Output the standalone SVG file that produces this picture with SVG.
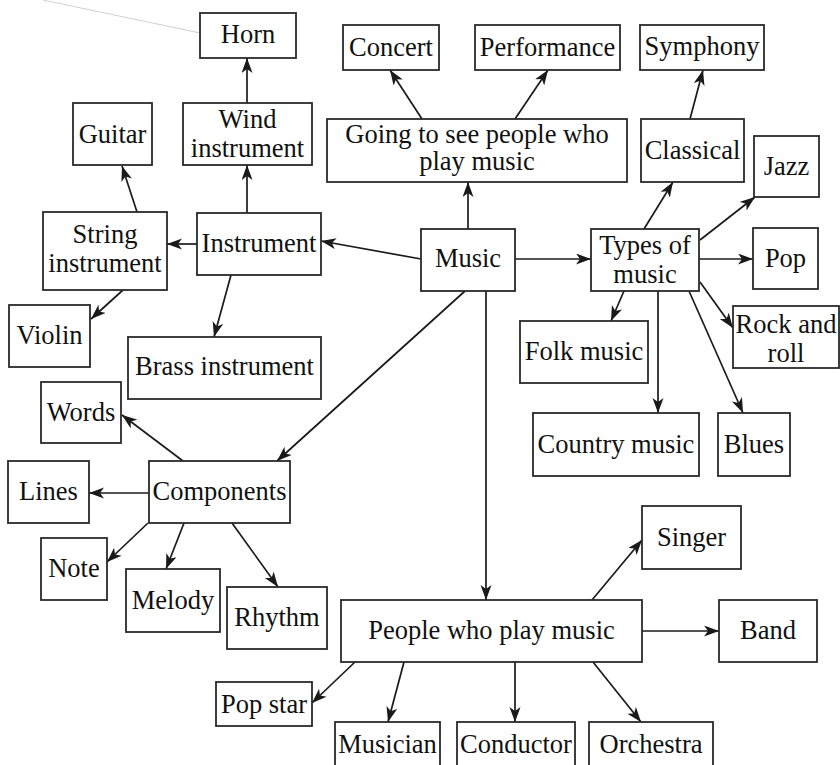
<svg xmlns="http://www.w3.org/2000/svg" width="840" height="765" viewBox="0 0 840 765">
<style>
.box{fill:#fff;stroke:#2a2a2a;stroke-width:1.8}
.t{font-family:"Liberation Serif","Times New Roman",serif;font-size:26.5px;fill:#111;text-anchor:middle}
.c{stroke:#1a1a1a;stroke-width:1.7;fill:none;marker-end:url(#ah)}
</style>
<defs>
<marker id="ah" markerUnits="userSpaceOnUse" markerWidth="17" markerHeight="12" refX="15" refY="5.5" orient="auto">
<path d="M0,0 L15,5.5 L0,11 L4,5.5 Z" fill="#1a1a1a"/>
</marker>
</defs>
<rect width="840" height="765" fill="#fff"/>
<line x1="43" y1="0" x2="200" y2="33" stroke="#cfcfcf" stroke-width="1"/>
<g id="connectors">
<line class="c" x1="247" y1="103" x2="247" y2="58"/>
<line class="c" x1="247" y1="213" x2="247" y2="165"/>
<line class="c" x1="137" y1="212" x2="122" y2="166"/>
<line class="c" x1="197" y1="244" x2="167" y2="244"/>
<line class="c" x1="123" y1="290" x2="91" y2="319"/>
<line class="c" x1="231" y1="275" x2="214" y2="337"/>
<line class="c" x1="421" y1="259" x2="321" y2="241"/>
<line class="c" x1="468" y1="229" x2="468" y2="182"/>
<line class="c" x1="422" y1="119" x2="390" y2="70"/>
<line class="c" x1="515" y1="119" x2="548" y2="70"/>
<line class="c" x1="690" y1="119" x2="703" y2="70"/>
<line class="c" x1="515" y1="259" x2="591" y2="259"/>
<line class="c" x1="644" y1="229" x2="673" y2="182"/>
<line class="c" x1="700" y1="240" x2="755" y2="197"/>
<line class="c" x1="699" y1="259" x2="753" y2="259"/>
<line class="c" x1="700" y1="282" x2="733" y2="328"/>
<line class="c" x1="624" y1="291" x2="611" y2="321"/>
<line class="c" x1="658" y1="291" x2="658" y2="413"/>
<line class="c" x1="689" y1="291" x2="743" y2="413"/>
<line class="c" x1="465" y1="291" x2="277" y2="461"/>
<line class="c" x1="486" y1="291" x2="486" y2="600"/>
<line class="c" x1="183" y1="461" x2="122" y2="415"/>
<line class="c" x1="149" y1="493" x2="89" y2="493"/>
<line class="c" x1="148" y1="523" x2="107" y2="562"/>
<line class="c" x1="184" y1="523" x2="166" y2="569"/>
<line class="c" x1="232" y1="523" x2="278" y2="587"/>
<line class="c" x1="592" y1="600" x2="642" y2="540"/>
<line class="c" x1="642" y1="631" x2="719" y2="631"/>
<line class="c" x1="355" y1="662" x2="312" y2="703"/>
<line class="c" x1="404" y1="662" x2="388" y2="722"/>
<line class="c" x1="515" y1="662" x2="515" y2="722"/>
<line class="c" x1="593" y1="662" x2="641" y2="722"/>
</g>
<g id="horn"><rect class="box" x="200" y="13" width="96" height="45"/><text class="t" x="248" y="43">Horn</text></g>
<g id="wind"><rect class="box" x="183" y="103" width="129" height="62"/><text class="t" x="247.5" y="128">Wind</text><text class="t" x="247.5" y="157">instrument</text></g>
<g id="guitar"><rect class="box" x="73" y="103" width="79" height="62"/><text class="t" x="112.5" y="143">Guitar</text></g>
<g id="concert"><rect class="box" x="343" y="25" width="96" height="45"/><text class="t" x="391" y="56">Concert</text></g>
<g id="performance"><rect class="box" x="475" y="25" width="145" height="45"/><text class="t" x="547.5" y="56">Performance</text></g>
<g id="symphony"><rect class="box" x="640" y="25" width="124" height="45"/><text class="t" x="702" y="55">Symphony</text></g>
<g id="going"><rect class="box" x="327" y="119" width="300" height="63"/><text class="t" x="477" y="143">Going to see people who</text><text class="t" x="477" y="170">play music</text></g>
<g id="classical"><rect class="box" x="641" y="119" width="103" height="63"/><text class="t" x="692.5" y="159">Classical</text></g>
<g id="jazz"><rect class="box" x="754" y="136" width="65" height="61"/><text class="t" x="786.5" y="175">Jazz</text></g>
<g id="string"><rect class="box" x="43" y="212" width="124" height="78"/><text class="t" x="105" y="243">String</text><text class="t" x="105" y="272">instrument</text></g>
<g id="instrument"><rect class="box" x="197" y="213" width="124" height="62"/><text class="t" x="259" y="252">Instrument</text></g>
<g id="music"><rect class="box" x="421" y="229" width="94" height="62"/><text class="t" x="468" y="267">Music</text></g>
<g id="types"><rect class="box" x="591" y="229" width="108" height="62"/><text class="t" x="645" y="254">Types of</text><text class="t" x="645" y="283">music</text></g>
<g id="pop"><rect class="box" x="753" y="228" width="65" height="61"/><text class="t" x="785.5" y="267">Pop</text></g>
<g id="violin"><rect class="box" x="9" y="305" width="81" height="62"/><text class="t" x="49.5" y="344">Violin</text></g>
<g id="brass"><rect class="box" x="128" y="337" width="193" height="62"/><text class="t" x="224.5" y="375">Brass instrument</text></g>
<g id="rock"><rect class="box" x="733" y="306" width="106" height="62"/><text class="t" x="786" y="333">Rock and</text><text class="t" x="786" y="362">roll</text></g>
<g id="folk"><rect class="box" x="520" y="321" width="128" height="62"/><text class="t" x="584" y="360">Folk music</text></g>
<g id="country"><rect class="box" x="533" y="413" width="166" height="63"/><text class="t" x="616" y="453">Country music</text></g>
<g id="blues"><rect class="box" x="718" y="413" width="72" height="63"/><text class="t" x="754" y="453">Blues</text></g>
<g id="words"><rect class="box" x="41" y="382" width="80" height="61"/><text class="t" x="81" y="421">Words</text></g>
<g id="lines"><rect class="box" x="8" y="461" width="81" height="62"/><text class="t" x="48.5" y="500">Lines</text></g>
<g id="components"><rect class="box" x="149" y="461" width="141" height="62"/><text class="t" x="219.5" y="500">Components</text></g>
<g id="note"><rect class="box" x="41" y="538" width="66" height="62"/><text class="t" x="74" y="577">Note</text></g>
<g id="melody"><rect class="box" x="126" y="569" width="94" height="63"/><text class="t" x="173" y="609">Melody</text></g>
<g id="rhythm"><rect class="box" x="227" y="587" width="100" height="62"/><text class="t" x="277" y="626">Rhythm</text></g>
<g id="singer"><rect class="box" x="642" y="506" width="99" height="63"/><text class="t" x="691.5" y="546">Singer</text></g>
<g id="people"><rect class="box" x="341" y="600" width="301" height="62"/><text class="t" x="491.5" y="639">People who play music</text></g>
<g id="band"><rect class="box" x="719" y="600" width="98" height="62"/><text class="t" x="768" y="639">Band</text></g>
<g id="popstar"><rect class="box" x="216" y="682" width="96" height="44"/><text class="t" x="264" y="713">Pop star</text></g>
<g id="musician"><rect class="box" x="335" y="722" width="105" height="60"/><text class="t" x="387.5" y="753">Musician</text></g>
<g id="conductor"><rect class="box" x="457" y="722" width="118" height="60"/><text class="t" x="516" y="753">Conductor</text></g>
<g id="orchestra"><rect class="box" x="589" y="722" width="124" height="60"/><text class="t" x="651" y="753">Orchestra</text></g>
</svg>
